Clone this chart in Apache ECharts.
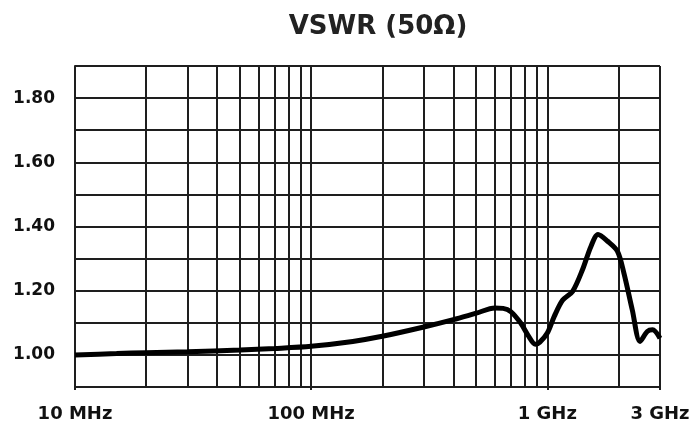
<!DOCTYPE html>
<html>
<head>
<meta charset="utf-8">
<script src="https://cdn.jsdelivr.net/npm/echarts@6/dist/echarts.min.js"></script>
<style>
html,body{margin:0;padding:0;background:#fff;}
#chart{width:696px;height:428px;}
</style>
</head>
<body>
<div id="chart"></div>
<script>
// Frequency in MHz
const freqMHz = [10, 15, 20, 30, 50, 70, 100, 150, 200, 300, 400, 500, 600, 650, 700, 770, 830, 890, 930, 1000, 1070, 1160, 1280, 1410, 1530, 1640, 1800, 1980, 2110, 2290, 2470, 2650, 2790, 3000];
const vswr = [1.000, 1.004, 1.007, 1.010, 1.015, 1.020, 1.027, 1.042, 1.058, 1.087, 1.110, 1.130, 1.146, 1.145, 1.135, 1.100, 1.060, 1.033, 1.040, 1.068, 1.120, 1.170, 1.198, 1.266, 1.338, 1.375, 1.354, 1.323, 1.255, 1.140, 1.042, 1.073, 1.078, 1.052];
const gridFreqs = [20, 30, 40, 50, 60, 70, 80, 90, 200, 300, 400, 500, 600, 700, 800, 900, 2000, 3000];
const titleText = 'VSWR (50Ω)';

const data = freqMHz.map((f, i) => [f, vswr[i]]);
const gridColor = '#1e1e1e';
const fontFam = 'DejaVu Sans, Liberation Sans, Arial, sans-serif';

const chart = echarts.init(document.getElementById('chart'), null, {renderer: 'canvas'});
chart.setOption({
  backgroundColor: '#ffffff',
  animation: false,
  title: {
    text: titleText,
    left: 373, top: 9, textAlign: 'center',
    textStyle: {fontFamily: fontFam, fontSize: 26, fontWeight: 'bold', color: '#222'}
  },
  grid: {left: 75, right: 36, top: 66, bottom: 41, containLabel: false},
  xAxis: {
    type: 'log', logBase: 10, min: 10, max: 3000,
    axisLine: {show: true, lineStyle: {color: gridColor, width: 2}},
    axisTick: {show: true, length: 3, lineStyle: {color: gridColor, width: 2}},
    splitLine: {show: true, lineStyle: {color: gridColor, width: 2}},
    minorTick: {show: false},
    axisLabel: {
      margin: 18,
      fontFamily: fontFam, fontSize: 18, fontWeight: 'bold', color: '#111',
      formatter: function (v) {
        const r = Math.round(v);
        return r >= 1000 ? Math.round(r / 1000) + ' GHz' : r + ' MHz';
      }
    }
  },
  yAxis: {
    type: 'value', min: 0.9, max: 1.9, interval: 0.1,
    axisLine: {show: true, lineStyle: {color: gridColor, width: 2}},
    axisTick: {show: false},
    splitLine: {show: true, lineStyle: {color: gridColor, width: 2}},
    axisLabel: {
      margin: 20,
      fontFamily: fontFam, fontSize: 17, fontWeight: 'bold', color: '#111',
      formatter: function (v) {
        const r = Math.round(v * 10);
        return (r % 2 === 0) ? (r / 10).toFixed(2) : '';
      }
    }
  },
  series: [{
    type: 'line',
    data: data,
    smooth: 0.3,
    symbol: 'none',
    lineStyle: {color: '#000', width: 5},
    z: 5,
    markLine: {
      silent: true,
      symbol: ['none', 'none'],
      label: {show: false},
      lineStyle: {color: gridColor, width: 2, type: 'solid'},
      data: gridFreqs.map(f => ({xAxis: f}))
    }
  }]
});
</script>
</body>
</html>
